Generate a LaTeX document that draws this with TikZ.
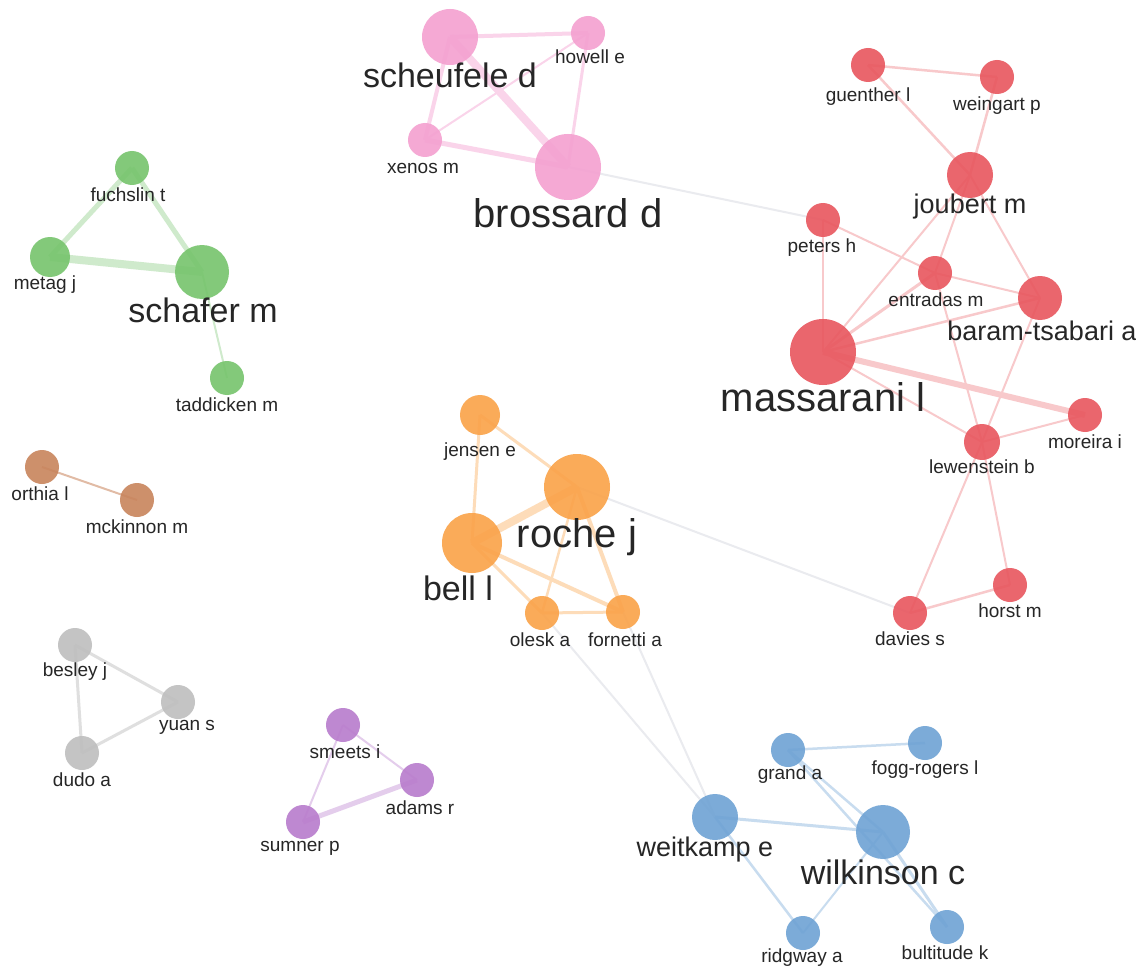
\documentclass[tikz,border=0pt]{standalone}
\usepackage{fontspec}
\setmainfont{Liberation Sans}
\usepackage{tikz}
\usetikzlibrary{backgrounds}
\definecolor{pinkc}{RGB}{244,160,208}
\definecolor{redc}{RGB}{232,86,94}
\definecolor{greenc}{RGB}{118,196,108}
\definecolor{brownc}{RGB}{200,132,92}
\definecolor{orangec}{RGB}{250,162,72}
\definecolor{bluec}{RGB}{110,162,212}
\definecolor{grayc}{RGB}{190,190,190}
\definecolor{purplec}{RGB}{184,124,204}
\definecolor{crossc}{RGB}{234,235,239}
\definecolor{labc}{RGB}{38,38,38}
\tikzstyle{dot} = [circle, inner sep=0pt, draw=none, fill opacity=0.9]
\tikzstyle{lab} = [text=labc, inner sep=0pt, font=\fontsize{19}{21}\selectfont]
\tikzstyle{labM} = [lab, font=\fontsize{27}{29}\selectfont]
\tikzstyle{labL} = [lab, font=\fontsize{34}{36}\selectfont]
\tikzstyle{labXL} = [lab, font=\fontsize{40}{42}\selectfont]
\tikzset{
  pinklink/.style={draw=pinkc!45, line width=#1},
  redlink/.style={draw=redc!32, line width=#1},
  greenlink/.style={draw=greenc!35, line width=#1},
  brownlink/.style={draw=brownc!55, line width=#1},
  orangelink/.style={draw=orangec!38, line width=#1},
  bluelink/.style={draw=bluec!38, line width=#1},
  graylink/.style={draw=grayc!50, line width=#1},
  purplelink/.style={draw=purplec!38, line width=#1},
  crosslink/.style={draw=crossc, line width=2}
}

\begin{document}
\begin{tikzpicture}[x=1pt,y=-1pt]
\useasboundingbox (0,0) rectangle (1136,971);

% pink group
\node[dot, fill=pinkc, minimum size=56] (scheu) at (450,37) {};
\node[dot, fill=pinkc, minimum size=34] (howell) at (588,33) {};
\node[dot, fill=pinkc, minimum size=34] (xenos) at (425,140) {};
\node[dot, fill=pinkc, minimum size=66] (bross) at (568,167) {};
\node[labL] (scheu-t) at (450,75) {scheufele d};
\node[lab] (howell-t) at (590,57) {howell e};
\node[lab] (xenos-t) at (423,168) {xenos m};
\node[labXL] (bross-t) at (568,213) {brossard d};

% red group
\node[dot, fill=redc, minimum size=34] (guen) at (868,65) {};
\node[dot, fill=redc, minimum size=34] (wein) at (997,77) {};
\node[dot, fill=redc, minimum size=46] (joub) at (970,175) {};
\node[dot, fill=redc, minimum size=34] (peters) at (823,220) {};
\node[dot, fill=redc, minimum size=34] (entr) at (935,273) {};
\node[dot, fill=redc, minimum size=44] (baram) at (1040,298) {};
\node[dot, fill=redc, minimum size=66] (mass) at (823,352) {};
\node[dot, fill=redc, minimum size=34] (more) at (1085,415) {};
\node[dot, fill=redc, minimum size=36] (lewen) at (982,442) {};
\node[dot, fill=redc, minimum size=34] (horst) at (1010,585) {};
\node[dot, fill=redc, minimum size=34] (davies) at (910,613) {};
\node[lab] (guen-t) at (868,97) {guenther l};
\node[lab] (wein-t) at (997,106) {weingart p};
\node[labM] (joub-t) at (970,207) {joubert m};
\node[lab] (peters-t) at (822,248) {peters h};
\node[lab] (entr-t) at (936,300) {entradas m};
\node[labM] (baram-t) at (1042,331) {baram-tsabari a};
\node[labXL] (mass-t) at (823,397) {massarani l};
\node[lab] (more-t) at (1085,442) {moreira i};
\node[lab] (lewen-t) at (982,467) {lewenstein b};
\node[lab] (horst-t) at (1010,611) {horst m};
\node[lab] (davies-t) at (910,639) {davies s};

% green group
\node[dot, fill=greenc, minimum size=34] (fuchs) at (132,168) {};
\node[dot, fill=greenc, minimum size=40] (metag) at (50,257) {};
\node[dot, fill=greenc, minimum size=54] (schaf) at (202,272) {};
\node[dot, fill=greenc, minimum size=34] (tadd) at (227,378) {};
\node[lab] (fuchs-t) at (128,195) {fuchslin t};
\node[lab] (metag-t) at (45,285) {metag j};
\node[labL] (schaf-t) at (203,310) {schafer m};
\node[lab] (tadd-t) at (227,405) {taddicken m};

% brown group
\node[dot, fill=brownc, minimum size=34] (orth) at (42,467) {};
\node[dot, fill=brownc, minimum size=34] (mckin) at (137,500) {};
\node[lab] (orth-t) at (40,494) {orthia l};
\node[lab] (mckin-t) at (137,527) {mckinnon m};

% orange group
\node[dot, fill=orangec, minimum size=40] (jens) at (480,415) {};
\node[dot, fill=orangec, minimum size=66] (roche) at (577,487) {};
\node[dot, fill=orangec, minimum size=60] (bell) at (472,543) {};
\node[dot, fill=orangec, minimum size=34] (olesk) at (542,613) {};
\node[dot, fill=orangec, minimum size=34] (forn) at (623,612) {};
\node[lab] (jens-t) at (480,452) {jensen e};
\node[labXL] (roche-t) at (577,537) {roche j};
\node[labL] (bell-t) at (458,588) {bell l};
\node[lab] (olesk-t) at (540,640) {olesk a};
\node[lab] (forn-t) at (625,640) {fornetti a};

% gray group
\node[dot, fill=grayc, minimum size=34] (besl) at (75,645) {};
\node[dot, fill=grayc, minimum size=34] (yuan) at (178,702) {};
\node[dot, fill=grayc, minimum size=34] (dudo) at (82,753) {};
\node[lab] (besl-t) at (75,672) {besley j};
\node[lab] (yuan-t) at (187,727) {yuan s};
\node[lab] (dudo-t) at (82,780) {dudo a};

% purple group
\node[dot, fill=purplec, minimum size=34] (smeet) at (343,725) {};
\node[dot, fill=purplec, minimum size=34] (adams) at (417,780) {};
\node[dot, fill=purplec, minimum size=34] (sumn) at (303,822) {};
\node[lab] (smeet-t) at (345,752) {smeets i};
\node[lab] (adams-t) at (420,808) {adams r};
\node[lab] (sumn-t) at (300,848) {sumner p};

% blue group
\node[dot, fill=bluec, minimum size=34] (grand) at (788,750) {};
\node[dot, fill=bluec, minimum size=34] (fogg) at (925,743) {};
\node[dot, fill=bluec, minimum size=46] (weit) at (715,817) {};
\node[dot, fill=bluec, minimum size=54] (wilk) at (883,832) {};
\node[dot, fill=bluec, minimum size=34] (ridg) at (803,933) {};
\node[dot, fill=bluec, minimum size=34] (bult) at (947,927) {};
\node[lab] (grand-t) at (790,775) {grand a};
\node[lab] (fogg-t) at (925,770) {fogg-rogers l};
\node[labM] (weit-t) at (705,850) {weitkamp e};
\node[labL] (wilk-t) at (883,872) {wilkinson c};
\node[lab] (ridg-t) at (802,958) {ridgway a};
\node[lab] (bult-t) at (945,953) {bultitude k};

\begin{scope}[on background layer]
\fill[white] (0,0) rectangle (1136,971);
% links between groups
\draw[crosslink] (bross.center) -- (peters.center);
\draw[crosslink] (roche.center) -- (davies.center);
\draw[crosslink] (olesk.center) -- (weit.center);
\draw[crosslink] (forn.center) -- (weit.center);
% pink
\draw[pinklink=8] (scheu.center) -- (bross.center);
\draw[pinklink=5] (xenos.center) -- (bross.center);
\draw[pinklink=4] (scheu.center) -- (howell.center);
\draw[pinklink=4] (scheu.center) -- (xenos.center);
\draw[pinklink=3] (howell.center) -- (bross.center);
\draw[pinklink=2] (howell.center) -- (xenos.center);
% red
\draw[redlink=2.5] (guen.center) -- (wein.center);
\draw[redlink=2.5] (guen.center) -- (joub.center);
\draw[redlink=2.5] (wein.center) -- (joub.center);
\draw[redlink=2] (joub.center) -- (mass.center);
\draw[redlink=2] (joub.center) -- (entr.center);
\draw[redlink=2] (joub.center) -- (baram.center);
\draw[redlink=2] (peters.center) -- (mass.center);
\draw[redlink=2] (peters.center) -- (entr.center);
\draw[redlink=3] (entr.center) -- (mass.center);
\draw[redlink=2] (entr.center) -- (baram.center);
\draw[redlink=2] (entr.center) -- (lewen.center);
\draw[redlink=2.5] (mass.center) -- (baram.center);
\draw[redlink=6] (mass.center) -- (more.center);
\draw[redlink=2] (mass.center) -- (lewen.center);
\draw[redlink=2] (baram.center) -- (lewen.center);
\draw[redlink=2] (lewen.center) -- (more.center);
\draw[redlink=2] (lewen.center) -- (davies.center);
\draw[redlink=2] (lewen.center) -- (horst.center);
\draw[redlink=2.5] (davies.center) -- (horst.center);
% green
\draw[greenlink=8] (metag.center) -- (schaf.center);
\draw[greenlink=5] (fuchs.center) -- (metag.center);
\draw[greenlink=5] (fuchs.center) -- (schaf.center);
\draw[greenlink=2] (schaf.center) -- (tadd.center);
% brown
\draw[brownlink=2] (orth.center) -- (mckin.center);
% orange
\draw[orangelink=8] (roche.center) -- (bell.center);
\draw[orangelink=3] (jens.center) -- (roche.center);
\draw[orangelink=3] (jens.center) -- (bell.center);
\draw[orangelink=4] (bell.center) -- (forn.center);
\draw[orangelink=4] (roche.center) -- (forn.center);
\draw[orangelink=2.5] (roche.center) -- (olesk.center);
\draw[orangelink=3] (bell.center) -- (olesk.center);
\draw[orangelink=3] (olesk.center) -- (forn.center);
% gray
\draw[graylink=3] (besl.center) -- (yuan.center);
\draw[graylink=3] (besl.center) -- (dudo.center);
\draw[graylink=3] (dudo.center) -- (yuan.center);
% purple
\draw[purplelink=5] (adams.center) -- (sumn.center);
\draw[purplelink=2] (smeet.center) -- (adams.center);
\draw[purplelink=2] (smeet.center) -- (sumn.center);
% blue
\draw[bluelink=2.5] (grand.center) -- (fogg.center);
\draw[bluelink=2.5] (grand.center) -- (wilk.center);
\draw[bluelink=2.5] (grand.center) -- (bult.center);
\draw[bluelink=3] (weit.center) -- (wilk.center);
\draw[bluelink=2.5] (weit.center) -- (ridg.center);
\draw[bluelink=2] (wilk.center) -- (ridg.center);
\draw[bluelink=3] (wilk.center) -- (bult.center);
\end{scope}
\end{tikzpicture}
\end{document}
